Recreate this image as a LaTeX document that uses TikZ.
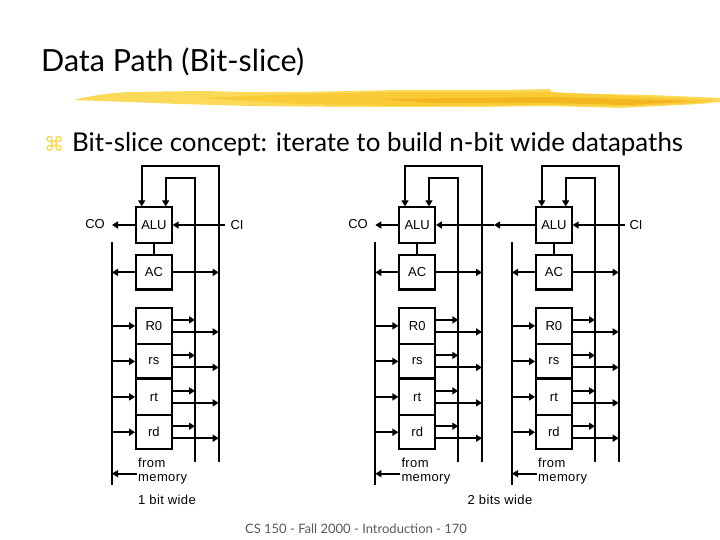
\documentclass[tikz,border=0pt]{standalone}
\usepackage{fontspec}
\setmainfont{Liberation Sans}
\newfontfamily\headfont{Lato}
\newfontfamily\symfont{DejaVu Sans}
\newfontfamily\spacedfont[LetterSpace=3]{Liberation Sans}
\usetikzlibrary{arrows.meta}
\definecolor{brushA}{RGB}{251,218,90}
\definecolor{brushB}{RGB}{249,203,55}
\definecolor{brushC}{RGB}{242,182,32}
\definecolor{bulletY}{RGB}{250,215,70}
\tikzset{
  wire/.style={line width=2.05pt,line cap=butt},
  awire/.style={wire,-{Triangle[length=6pt,width=7pt]}},
  cell/.style={draw,line width=2.05pt,minimum width=35.5pt,inner sep=0pt,font=\fontsize{13}{13}\selectfont},
  lab/.style={inner sep=0pt,font=\fontsize{13}{13}\selectfont},
  memlab/.style={inner sep=0pt,align=left,anchor=north west,font=\spacedfont\fontsize{13}{14.5}\selectfont},
}
\newcommand{\slicepath}[2]{%
  \node[cell,minimum height=35.2pt] (#1alu) at (#2+153.9,225) {ALU};
  \node[cell,minimum height=34.2pt] (#1ac)  at (#2+153.9,272.4) {AC};
  \node[cell,minimum height=35.8pt] (#1r0)  at (#2+153.9,325.9) {R0};
  \node[cell,minimum height=34.2pt] (#1rs)  at (#2+153.9,361.4) {rs};
  \node[cell,minimum height=35.8pt] (#1rt)  at (#2+153.9,396.9) {rt};
  \node[cell,minimum height=33.8pt] (#1rd)  at (#2+153.9,432.2) {rd};
  \coordinate (#1busLt) at (#2+112,242.3);
  \coordinate (#1busLb) at (#2+112,485.3);
  \coordinate (#1busA)  at (#2+195,462.3);
  \coordinate (#1busB)  at (#2+218.7,462.3);
  \coordinate (#1topA)  at (#2+195,177.7);
  \coordinate (#1topB)  at (#2+218.7,166);
  \coordinate (#1inA)   at (#2+165.7,177.7);
  \coordinate (#1inB)   at (#2+141.7,166);
  \coordinate (#1mem)   at (#2+136.7,473.7);
  \draw[wire] (#1alu) -- (#1ac);
  \draw[wire] (#1busLt) -- (#1busLb);
  \draw[awire] (#1busB) -- (#1topB) -- (#1inB) -- (#1inB |- #1alu.north);
  \draw[awire] (#1busA) -- (#1topA) -- (#1inA) -- (#1inA |- #1alu.north);
  \draw[awire] (#1ac.west) -- (#1ac.west -| #1busLt);
  \draw[awire] (#1ac.east) -- (#1ac.east -| #1busB);
  \draw[awire] (#1mem) -- (#1mem -| #1busLt);
  \foreach \r in {r0,rs,rt,rd}{
    \draw[awire] (#1\r.west -| #1busLt) -- (#1\r.west);
    \draw[awire] ([yshift=6pt]#1\r.east) -- ([yshift=6pt]#1\r.east -| #1busA);
    \draw[awire] ([yshift=-6pt]#1\r.east) -- ([yshift=-6pt]#1\r.east -| #1busB);
  }
  \node[memlab] (#1from) at (#2+138,457.5) {from\\[-0.5pt]memory};
}
\begin{document}
\begin{tikzpicture}[x=1pt,y=-1pt]
\useasboundingbox (0,0) rectangle (720,540);
% brush stroke
\fill[brushA] (73,100) .. controls (95,95) and (110,93) .. (130,92) -- (200,91) -- (250,92) -- (300,92) -- (350,91) -- (400,90) -- (500,90) -- (550,89) -- (552,93) -- (600,94) -- (650,95) -- (700,97) -- (720,98) -- (720,102) -- (700,104) -- (640,107) -- (620,108) -- (550,106) -- (470,107) -- (400,107) -- (350,107) -- (250,106) -- (180,104) -- (130,102) -- (100,101) -- cycle;
\fill[brushB] (200,98) -- (300,94) -- (400,92) -- (550,92) -- (650,97) -- (716,100) -- (700,103) -- (630,106) -- (550,105) -- (400,106) -- (300,104) -- cycle;
\fill[brushC] (380,99) -- (550,97) -- (695,101) -- (630,105) -- (550,103) -- (430,103) -- cycle;
% headings
\node[inner sep=0pt,anchor=base west,font=\headfont\fontsize{30.5}{30}\selectfont] (title) at (41,72) {Data Path (Bit-slice)};
\node[inner sep=0pt,anchor=base west,text=bulletY,font=\symfont\fontsize{20}{20}\selectfont] (bullet) at (44,152) {⌘};
\node[inner sep=0pt,anchor=base west,font=\headfont\fontsize{25.9}{26}\selectfont] (head) at (72,152) {Bit-slice concept: iterate to build n-bit wide datapaths};
% slices
\slicepath{a}{0}
\slicepath{b}{263.3}
\slicepath{c}{400}
% labels
\node[lab] (coa) at (95,224) {CO};
\node[lab] (cia) at (237,225) {CI};
\node[lab] (cob) at (358,224) {CO};
\node[lab] (cic) at (636,225) {CI};
\coordinate (coaEnd) at (aalu.west -| abusLt);
\coordinate (cobEnd) at (balu.west -| bbusLt);
\coordinate (ciaStart) at (225,225);
\coordinate (cicStart) at (625,225);
\draw[awire] (aalu.west) -- (coaEnd);
\draw[awire] (balu.west) -- (cobEnd);
\draw[awire] (ciaStart) -- (aalu.east);
\draw[awire] (cicStart) -- (calu.east);
\coordinate (carryMid) at (494,225);
\draw[awire] (calu.west) -- (carryMid);
\draw[awire] (carryMid) -- (balu.east);
\node[lab,anchor=base west,font=\spacedfont\fontsize{13}{13}\selectfont] (bitone) at (138,504) {1 bit wide};
\node[lab,anchor=base,font=\spacedfont\fontsize{13}{13}\selectfont] (bittwo) at (500,504.5) {2 bits wide};
\node[inner sep=0pt,anchor=base,text=black!65,font=\headfont\fontsize{13}{13}\selectfont] (foot) at (356,533) {CS 150 - Fall 2000 - Introduction - 170};
\end{tikzpicture}
\end{document}
